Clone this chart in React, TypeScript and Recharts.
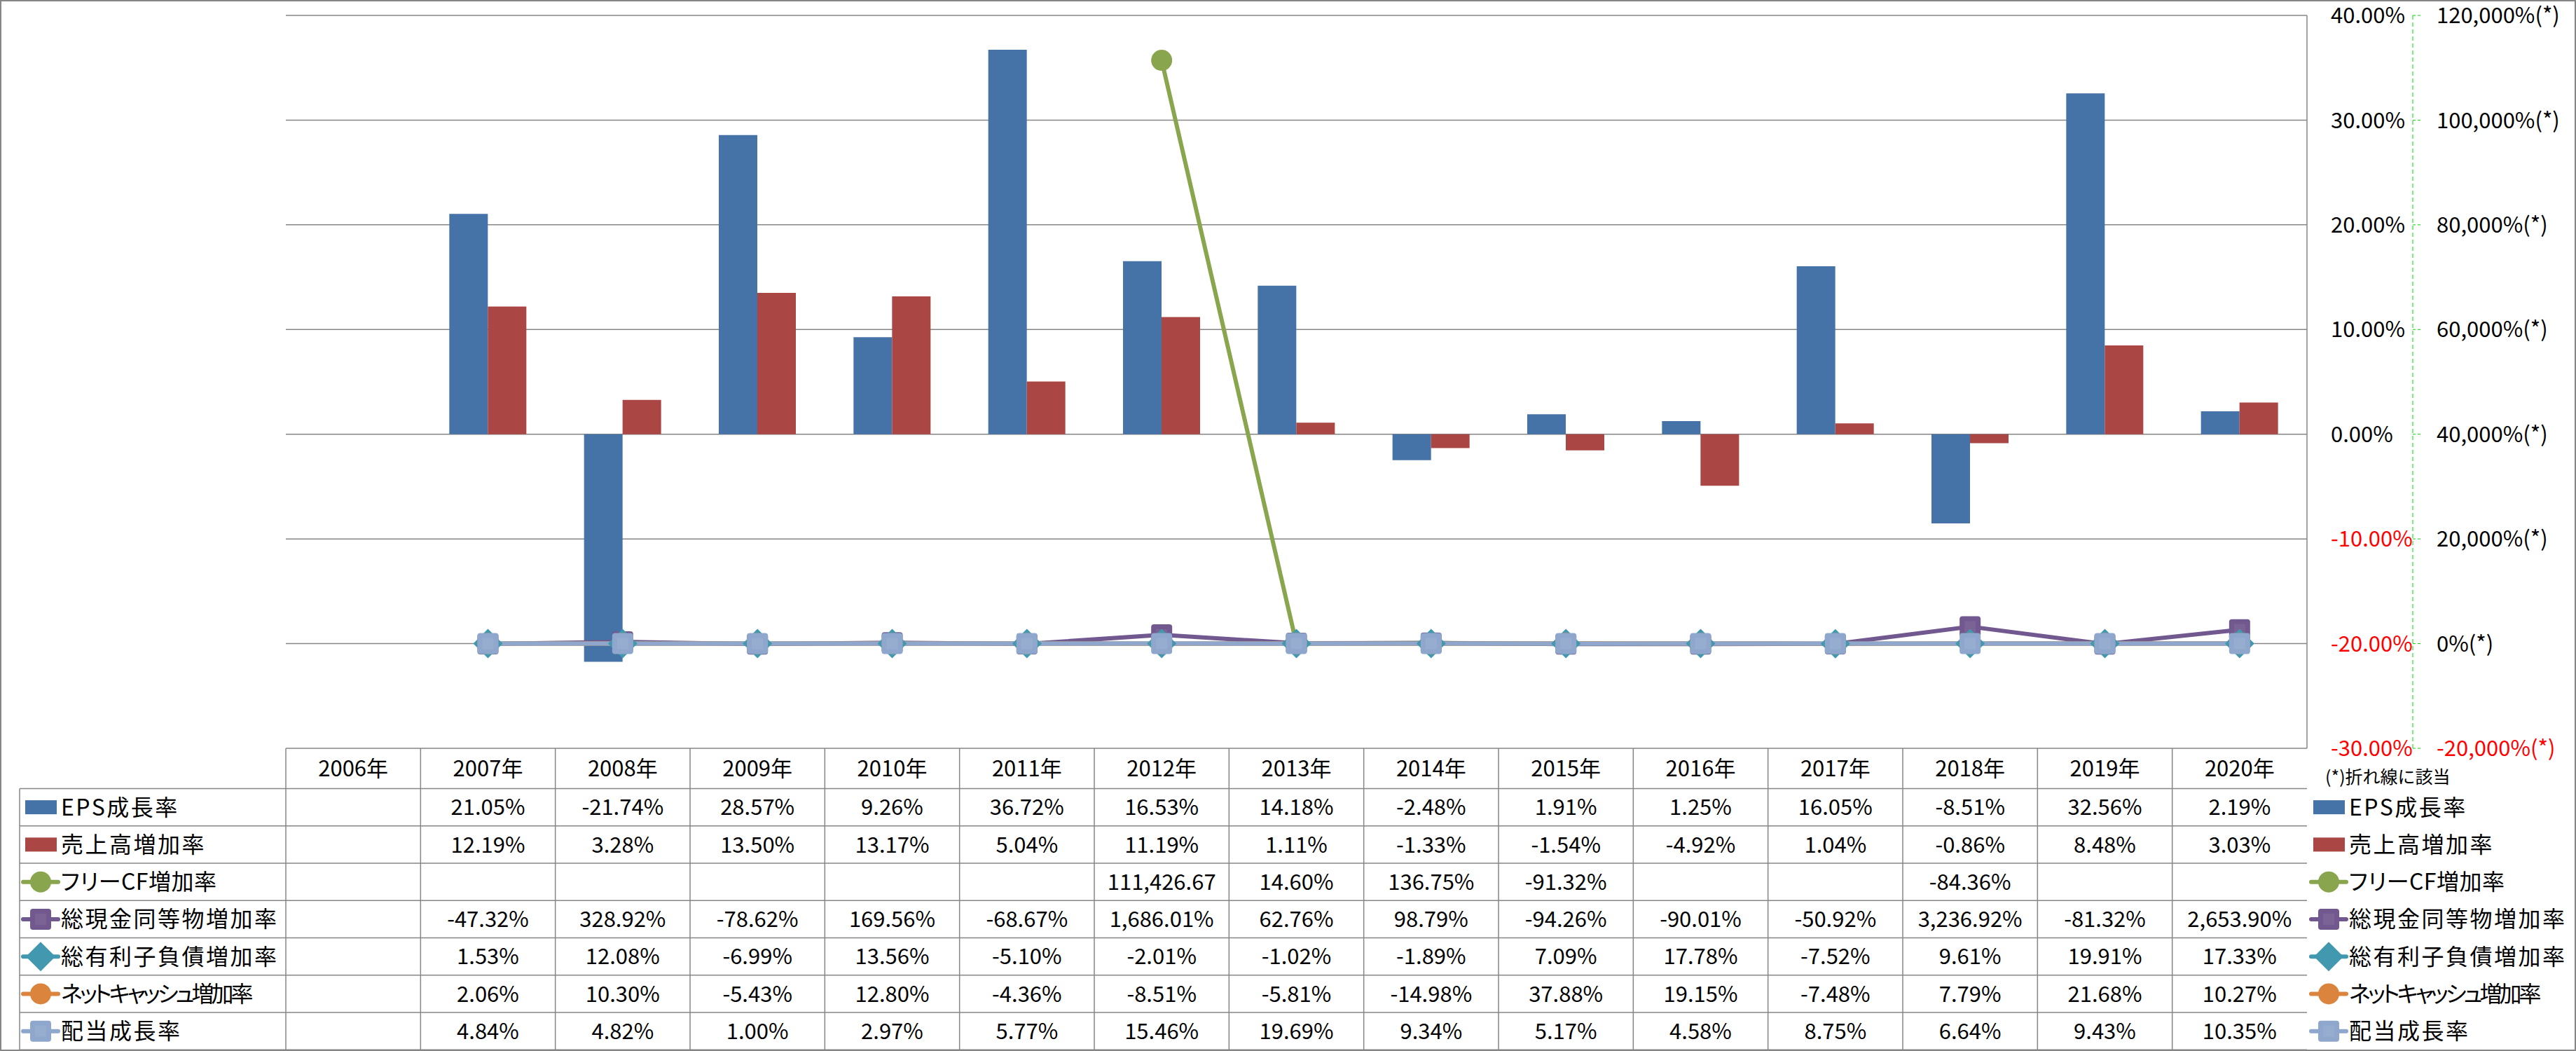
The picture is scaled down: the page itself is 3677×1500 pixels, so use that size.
import React from 'react';
import { ComposedChart, Bar, Line, XAxis, YAxis, CartesianGrid } from 'recharts';

const years = ['2006年', '2007年', '2008年', '2009年', '2010年', '2011年', '2012年', '2013年', '2014年', '2015年', '2016年', '2017年', '2018年', '2019年', '2020年'];

const epsGrowth = [null, 21.05, -21.74, 28.57, 9.26, 36.72, 16.53, 14.18, -2.48, 1.91, 1.25, 16.05, -8.51, 32.56, 2.19];
const salesGrowth = [null, 12.19, 3.28, 13.5, 13.17, 5.04, 11.19, 1.11, -1.33, -1.54, -4.92, 1.04, -0.86, 8.48, 3.03];
const freeCfGrowth = [null, null, null, null, null, null, 111426.67, 14.6, 136.75, -91.32, null, null, -84.36, null, null];
const cashGrowth = [null, -47.32, 328.92, -78.62, 169.56, -68.67, 1686.01, 62.76, 98.79, -94.26, -90.01, -50.92, 3236.92, -81.32, 2653.9];
const debtGrowth = [null, 1.53, 12.08, -6.99, 13.56, -5.1, -2.01, -1.02, -1.89, 7.09, 17.78, -7.52, 9.61, 19.91, 17.33];
const netCashGrowth = [null, 2.06, 10.3, -5.43, 12.8, -4.36, -8.51, -5.81, -14.98, 37.88, 19.15, -7.48, 7.79, 21.68, 10.27];
const dividendGrowth = [null, 4.84, 4.82, 1.0, 2.97, 5.77, 15.46, 19.69, 9.34, 5.17, 4.58, 8.75, 6.64, 9.43, 10.35];

const barTicks = [-30, -20, -10, 0, 10, 20, 30, 40];
const lineTicks = [-20000, 0, 20000, 40000, 60000, 80000, 100000, 120000];

const FONT = '"Noto Sans CJK JP", "Noto Sans", sans-serif';

type Series = {
  key: string;
  name: string;
  color: string;
  kind: 'bar' | 'line';
  marker?: 'circle' | 'square' | 'diamond';
  values: (number | null)[];
};

const series: Series[] = [
  { key: 'eps', name: 'EPS成長率', color: '#4572A7', kind: 'bar', values: epsGrowth },
  { key: 'sales', name: '売上高増加率', color: '#AA4643', kind: 'bar', values: salesGrowth },
  { key: 'fcf', name: 'フリーCF増加率', color: '#89A54E', kind: 'line', marker: 'circle', values: freeCfGrowth },
  { key: 'cash', name: '総現金同等物増加率', color: '#71588F', kind: 'line', marker: 'square', values: cashGrowth },
  { key: 'debt', name: '総有利子負債増加率', color: '#4198AF', kind: 'line', marker: 'diamond', values: debtGrowth },
  { key: 'net', name: 'ネットキャッシュ増加率', color: '#DB843D', kind: 'line', marker: 'circle', values: netCashGrowth },
  { key: 'div', name: '配当成長率', color: '#8FA7CD', kind: 'line', marker: 'square', values: dividendGrowth },
];

const data = years.map((year, i) => {
  const row: any = { year };
  series.forEach((s) => (row[s.key] = s.values[i]));
  return row;
});

// layout
const W = 3677;
const H = 1500;
const PLOT_LEFT = 408;
const PLOT_RIGHT = 3293;
const PLOT_TOP = 22;
const PLOT_BOTTOM = 1068;
const COL_W = (PLOT_RIGHT - PLOT_LEFT) / years.length;
const HEAD_BOTTOM = 1125.5;
const ROW_H = 53.25;
const TABLE_LEFT = 28;

const fmtPct = (v: number | null) => {
  if (v == null) return '';
  const s = v.toLocaleString('en-US', { minimumFractionDigits: 2, maximumFractionDigits: 2 }) + '%';
  // cell too narrow for the longest value: Excel cuts it off
  return s.length > 10 ? s.slice(0, -1) : s;
};

// small kana (ッャュ) are set much tighter in the original font
const labelSpacing = (name: string) => {
  if (/[ッャュ]/.test(name)) return -4;
  if (/[\u30A0-\u30FF]/.test(name)) return 0.5;
  return 2.5;
};

function Marker({ shape, color, cx, cy }: { shape?: string; color: string; cx: number; cy: number }) {
  if (shape === 'circle') return <circle cx={cx} cy={cy} r={15} fill={color} />;
  if (shape === 'diamond') {
    const r = 21;
    return <polygon points={`${cx},${cy - r} ${cx + r},${cy} ${cx},${cy + r} ${cx - r},${cy}`} fill={color} />;
  }
  return (
    <g>
      <rect x={cx - 15} y={cy - 15} width={30} height={30} rx={4} fill={color} />
      <rect x={cx - 8} y={cy - 8} width={16} height={16} fill="#fff" opacity={0.07} />
    </g>
  );
}

const makeDot = (s: Series) => (p: any) => {
  const { cx, cy, index, value } = p;
  if (value == null || cx == null || cy == null) return <g key={`${s.key}-${index}`} />;
  return (
    <g key={`${s.key}-${index}`}>
      <Marker shape={s.marker} color={s.color} cx={cx} cy={cy} />
    </g>
  );
};

const BarTick = (props: any) => {
  const { x, y, payload } = props;
  const v = payload.value as number;
  return (
    <text x={x} y={y} dy="0.36em" textAnchor="start" fontSize={31} fontFamily={FONT} fill={v < 0 ? '#FF0000' : '#000'}>
      {v.toFixed(2)}%
    </text>
  );
};

const LineTick = (props: any) => {
  const { x, y, payload } = props;
  const v = payload.value as number;
  return (
    <text x={x} y={y} dy="0.36em" textAnchor="start" fontSize={31} fontFamily={FONT} fill={v < 0 ? '#FF0000' : '#000'}>
      {v.toLocaleString('en-US')}%(*)
    </text>
  );
};

function LegendKey({ s, x, y }: { s: Series; x: number; y: number }) {
  if (s.kind === 'bar') return <rect x={x + 3} y={y - 10} width={45} height={20} fill={s.color} />;
  return (
    <g>
      <line x1={x} y1={y} x2={x + 50} y2={y} stroke={s.color} strokeWidth={6} strokeLinecap="round" />
      <Marker shape={s.marker} color={s.color} cx={x + 25} cy={y} />
    </g>
  );
}

function DataTable() {
  const gridColor = '#868686';
  const rowLines = series.map((_, i) => HEAD_BOTTOM + i * ROW_H).concat(HEAD_BOTTOM + series.length * ROW_H);
  const tableBottom = rowLines[rowLines.length - 1];
  const labelStyle = { fontFeatureSettings: '"palt"' } as React.CSSProperties;
  return (
    <svg width={W} height={H} style={{ position: 'absolute', left: 0, top: 0 }} fontFamily={FONT}>
      {rowLines.map((y, i) => (
        <line key={`h${i}`} x1={TABLE_LEFT} x2={PLOT_RIGHT} y1={y} y2={y} stroke={gridColor} strokeWidth={1.5} />
      ))}
      <line x1={TABLE_LEFT} x2={TABLE_LEFT} y1={HEAD_BOTTOM} y2={tableBottom} stroke={gridColor} strokeWidth={1.5} />
      {years.map((_, k) => (
        <line key={`v${k}`} x1={PLOT_LEFT + k * COL_W} x2={PLOT_LEFT + k * COL_W} y1={PLOT_BOTTOM} y2={tableBottom} stroke={gridColor} strokeWidth={1.5} />
      ))}
      {years.map((yr, k) => (
        <text key={`y${k}`} x={PLOT_LEFT + (k + 0.5) * COL_W} y={(PLOT_BOTTOM + HEAD_BOTTOM) / 2} dy="0.36em" textAnchor="middle" fontSize={31}>
          {yr}
        </text>
      ))}
      {series.map((s, i) => {
        const cy = HEAD_BOTTOM + (i + 0.5) * ROW_H;
        return (
          <g key={s.key}>
            <LegendKey s={s} x={33} y={cy} />
            <text x={87} y={cy} dy="0.36em" fontSize={32} letterSpacing={labelSpacing(s.name)} style={labelStyle}>{s.name}</text>
            {s.values.map((v, k) => (
              <text key={k} x={PLOT_LEFT + (k + 0.5) * COL_W} y={cy} dy="0.36em" textAnchor="middle" fontSize={31}>
                {fmtPct(v)}
              </text>
            ))}
            <LegendKey s={s} x={3299} y={cy} />
            <text x={3353} y={cy} dy="0.36em" fontSize={32} letterSpacing={labelSpacing(s.name)} style={labelStyle}>{s.name}</text>
          </g>
        );
      })}
      <text x={3319} y={1109} dy="0.36em" fontSize={25}>(*)折れ線に該当</text>
    </svg>
  );
}

export default function App() {
  return (
    <div style={{ position: 'absolute', left: 0, top: 0, width: W, height: H, background: '#fff', fontFamily: FONT }}>
      <ComposedChart
        width={W}
        height={H}
        data={data}
        margin={{ top: PLOT_TOP, left: PLOT_LEFT, right: W - PLOT_RIGHT - 151 - 200, bottom: H - PLOT_BOTTOM }}
        barCategoryGap={41}
        barGap={0}
      >
        <CartesianGrid yAxisId="left" horizontal vertical={false} stroke="#868686" strokeWidth={1.5} />
        <XAxis dataKey="year" hide />
        <YAxis
          yAxisId="left"
          orientation="right"
          width={151}
          domain={[-30, 40]}
          ticks={barTicks}
          interval={0}
          tickSize={0}
          tickMargin={34}
          tickLine={false}
          axisLine={{ stroke: '#868686', strokeWidth: 1.5 }}
          tick={<BarTick />}
        />
        <YAxis
          yAxisId="right"
          orientation="right"
          width={200}
          domain={[-20000, 120000]}
          ticks={lineTicks}
          interval={0}
          tickSize={11}
          tickMargin={23}
          tickLine={{ stroke: '#00DD00', strokeDasharray: '4 3' }}
          axisLine={{ stroke: '#00DD00', strokeDasharray: '6 4' }}
          tick={<LineTick />}
        />
        {series.filter((s) => s.kind === 'bar').map((s) => (
          <Bar key={s.key} yAxisId="left" dataKey={s.key} name={s.name} fill={s.color} isAnimationActive={false} />
        ))}
        {series.filter((s) => s.kind === 'line').map((s) => (
          <Line
            key={s.key}
            yAxisId="right"
            type="linear"
            dataKey={s.key}
            name={s.name}
            stroke={s.color}
            strokeWidth={6}
            strokeLinejoin="round"
            dot={makeDot(s)}
            activeDot={false}
            connectNulls={false}
            isAnimationActive={false}
          />
        ))}
      </ComposedChart>
      <DataTable />
      <div style={{ position: 'absolute', left: 0, top: 0, width: W, height: H, boxSizing: 'border-box', border: '2px solid #868686', pointerEvents: 'none' }} />
    </div>
  );
}
